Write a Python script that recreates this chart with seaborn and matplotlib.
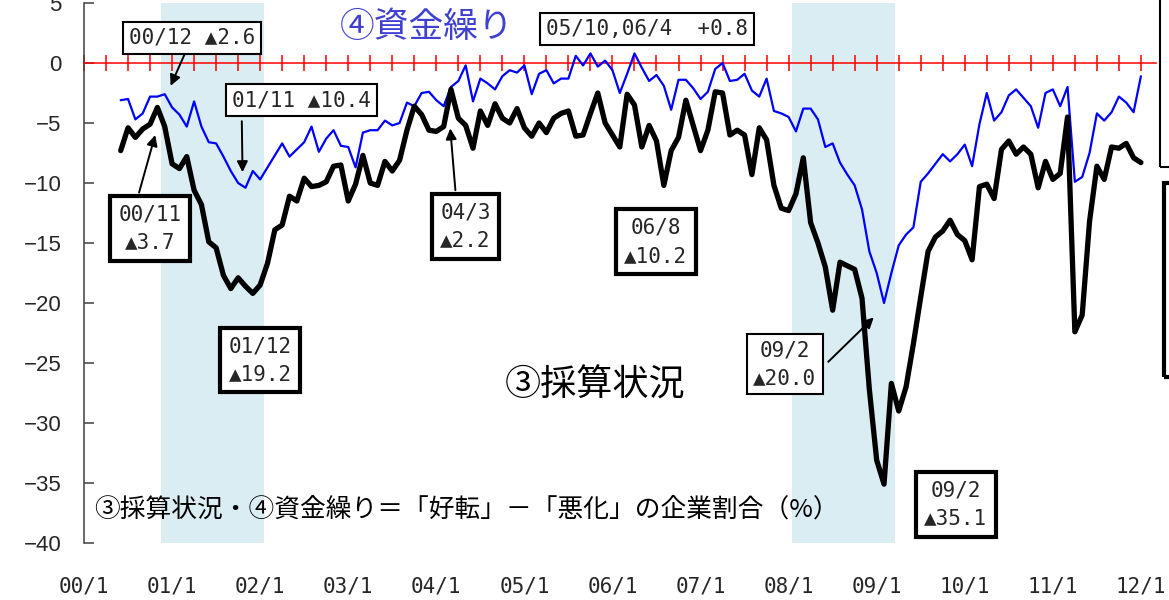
import numpy as np
import pandas as pd
import matplotlib
matplotlib.use("Agg")
import matplotlib.pyplot as plt
from matplotlib.patches import Rectangle
import seaborn as sns

# ---------------- data (monthly, 2000/6 .. 2012/1) ----------------
start_month = 5  # months after 2000/1
profit = [  # ③採算状況
    -7.3, -5.4, -6.2, -5.5, -5.1, -3.7, -5.3, -8.4, -8.8, -7.8,
    -10.6, -11.8, -14.9, -15.4, -17.7, -18.8, -17.9, -18.6, -19.2, -18.5,
    -16.7, -13.9, -13.5, -11.1, -11.5, -9.6, -10.3, -10.2, -9.9, -8.6,
    -8.5, -11.5, -10.1, -7.7, -10.0, -10.2, -8.2, -9.0, -8.1, -5.6,
    -3.6, -4.3, -5.6, -5.7, -5.3, -2.2, -4.6, -5.2, -7.1, -4.0,
    -5.2, -3.4, -4.6, -5.0, -3.8, -5.4, -6.1, -5.0, -5.8, -4.6,
    -4.2, -4.0, -6.1, -6.0, -4.2, -2.5, -5.0, -6.0, -7.0, -2.6,
    -3.5, -7.0, -5.2, -6.5, -10.2, -7.3, -6.2, -3.1, -5.2, -7.3,
    -5.6, -2.4, -2.5, -6.0, -5.6, -6.0, -9.3, -5.4, -6.4, -10.2,
    -12.1, -12.3, -10.9, -7.9, -13.3, -15.0, -17.0, -20.6, -16.6, -16.9,
    -17.2, -19.6, -27.2, -33.1, -35.1, -26.7, -29.0, -27.0, -23.4, -19.5,
    -15.7, -14.5, -14.0, -13.1, -14.3, -14.8, -16.4, -10.3, -10.1, -11.3,
    -7.2, -6.5, -7.6, -7.0, -7.6, -10.4, -8.2, -9.7, -9.2, -4.5,
    -22.4, -21.0, -13.2, -8.6, -9.7, -7.0, -7.1, -6.7, -7.9, -8.3,
]
funding = [  # ④資金繰り
    -3.1, -3.0, -4.7, -4.2, -2.8, -2.8, -2.6, -3.7, -4.3, -5.3,
    -3.2, -5.3, -6.6, -6.7, -7.8, -9.0, -10.0, -10.4, -9.0, -9.7,
    -8.7, -7.7, -6.7, -7.8, -7.2, -6.6, -5.3, -7.4, -6.3, -5.6,
    -6.9, -7.0, -8.7, -5.8, -5.6, -5.6, -4.8, -5.2, -5.0, -3.3,
    -3.6, -2.5, -2.4, -3.1, -3.6, -2.0, -1.5, -0.2, -3.2, -1.3,
    -1.7, -2.2, -1.1, -0.6, -0.8, -0.2, -2.6, -0.9, -0.6, -1.7,
    -1.3, -1.3, 0.6, -0.2, 0.8, -0.3, 0.2, -0.6, -2.5, -0.9,
    0.8, -0.4, -1.5, -1.0, -1.9, -3.9, -1.4, -1.4, -2.1, -3.0,
    -2.4, -0.5, 0.0, -1.5, -1.4, -0.9, -2.3, -2.8, -1.3, -4.0,
    -4.2, -4.5, -5.7, -3.8, -3.8, -4.7, -7.0, -6.7, -8.3, -9.3,
    -10.2, -12.2, -15.7, -17.5, -20.0, -17.5, -15.2, -14.3, -13.7, -9.9,
    -9.2, -8.4, -7.6, -8.2, -7.6, -6.8, -8.6, -5.1, -2.5, -4.8,
    -4.1, -2.7, -2.2, -2.9, -3.6, -5.4, -2.5, -2.2, -3.6, -2.0,
    -9.9, -9.5, -7.5, -4.2, -4.8, -4.1, -2.8, -3.3, -4.1, -1.1,
]
year_labels = ["00/1", "01/1", "02/1", "03/1", "04/1", "05/1", "06/1",
               "07/1", "08/1", "09/1", "10/1", "11/1", "12/1"]
recessions = [(10.5, 24.5), (96.5, 110.5)]

months = np.arange(start_month, start_month + len(profit))
df = pd.DataFrame({"month": months, "profit": profit, "funding": funding})

# ---------------- style ----------------
sns.set_theme(style="white")
plt.rcParams["font.family"] = ["Noto Sans CJK JP", "DejaVu Sans"]
plt.rcParams["axes.unicode_minus"] = True
MONO = ["DejaVu Sans Mono", "Noto Sans CJK JP"]

fig = plt.figure(figsize=(11.69, 6.0), dpi=100)
ax = fig.add_axes([84 / 1169, 57 / 600, 1071.6 / 1169, 540 / 600])

for a, b in recessions:
    ax.axvspan(a, b, color="#daedf3", lw=0, zorder=0)

sns.lineplot(data=df, x="month", y="funding", color="#0000ff", lw=1.6,
             ax=ax, legend=False, zorder=3)
sns.lineplot(data=df, x="month", y="profit", color="black", lw=3.8,
             ax=ax, legend=False, zorder=4)

ax.set_xlim(0, 146)
ax.set_ylim(-40, 5)
ax.set_xlabel("")
ax.set_ylabel("")

# red zero line acting as the x axis
for s in ["top", "right"]:
    ax.spines[s].set_visible(False)
ax.spines["bottom"].set_position(("data", 0))
ax.spines["bottom"].set_color("#ff0000")
ax.spines["bottom"].set_linewidth(1.1)
ax.spines["left"].set_color("#404040")
ax.spines["left"].set_linewidth(1.1)
ax.set_xticks(np.arange(0, 145, 3))
ax.tick_params(axis="x", direction="inout", length=11, width=1.1,
               color="#ff0000", labelbottom=False, bottom=True)
ax.set_yticks(np.arange(-40, 6, 5))
ax.tick_params(axis="y", direction="in", length=7, width=1.1,
               color="#404040", left=True, pad=16, labelsize=16)
for lbl in ax.get_yticklabels():
    lbl.set_fontfamily("Liberation Sans")

sec = ax.secondary_xaxis("bottom")
sec.set_xticks(np.arange(0, 145, 12), labels=year_labels)
sec.spines["bottom"].set_visible(False)
sec.tick_params(length=0, pad=24, labelsize=15)
for lbl in sec.get_xticklabels():
    lbl.set_fontfamily(MONO)

# ---------------- texts ----------------
ax.text(34.9, 3.0, "④資金繰り", color="#4040d0", fontsize=25,
        ha="left", va="center", zorder=6)
ax.text(57.3, -26.9, "③採算状況", color="black", fontsize=26,
        ha="left", va="center", zorder=6)
ax.text(1.4, -37.2, "③採算状況・④資金繰り＝「好転」－「悪化」の企業割合（%）",
        color="black", fontsize=18.5, ha="left", va="center", zorder=6)

thin = dict(boxstyle="square,pad=0.3", fc="white", ec="black", lw=1.5)
thick = dict(boxstyle="square,pad=0.4", fc="white", ec="black", lw=3.0)
arrow = dict(arrowstyle="-|>", color="black", lw=1.4, mutation_scale=16,
             shrinkA=0, shrinkB=0)
fs = 15
box_kw = dict(fontsize=fs, ha="center", va="center", family=MONO,
              linespacing=1.5, zorder=7)

ax.annotate("00/12 ▲2.6", xy=(11.8, -1.9), xytext=(14.7, 2.1),
            bbox=thin, arrowprops=arrow, **box_kw)
ax.text(29.6, -3.1, "01/11 ▲10.4", bbox=thin, **box_kw)
ax.annotate("", xy=(21.6, -9.1), xytext=(21.5, -4.85), arrowprops=arrow, zorder=7)

ax.text(9.0, -13.8, "00/11\n▲3.7", bbox=thick, **box_kw)
ax.annotate("", xy=(9.7, -6.0), xytext=(7.5, -10.8), arrowprops=arrow, zorder=7)

ax.text(24.0, -24.75, "01/12\n▲19.2", bbox=thick, **box_kw)
ax.text(76.7, 2.83, "05/10,06/4  +0.8", bbox=thin, **box_kw)
ax.text(52.0, -13.6, "04/3\n▲2.2", bbox=thick, **box_kw)
ax.annotate("", xy=(49.9, -5.45), xytext=(50.6, -10.6), arrowprops=arrow, zorder=7)

ax.text(77.9, -14.9, "06/8\n▲10.2", bbox=thick, **box_kw)
ax.text(95.5, -25.1, "09/2\n▲20.0", bbox=thin, **box_kw)
ax.annotate("", xy=(107.6, -21.2), xytext=(101.4, -24.9), arrowprops=arrow, zorder=7)

ax.text(118.8, -36.8, "09/2\n▲35.1", bbox=thick, **box_kw)

# partly visible legend boxes at the right edge
fig.add_artist(Rectangle((1160 / 1169, 433 / 600), 0.05, 0.3,
                         transform=fig.transFigure, fill=False,
                         ec="black", lw=1.5, clip_on=False))
fig.add_artist(Rectangle((1164 / 1169, 223 / 600), 0.05, 194 / 600,
                         transform=fig.transFigure, fill=False,
                         ec="black", lw=3.0, clip_on=False))

fig.savefig("out.png", dpi=100)
